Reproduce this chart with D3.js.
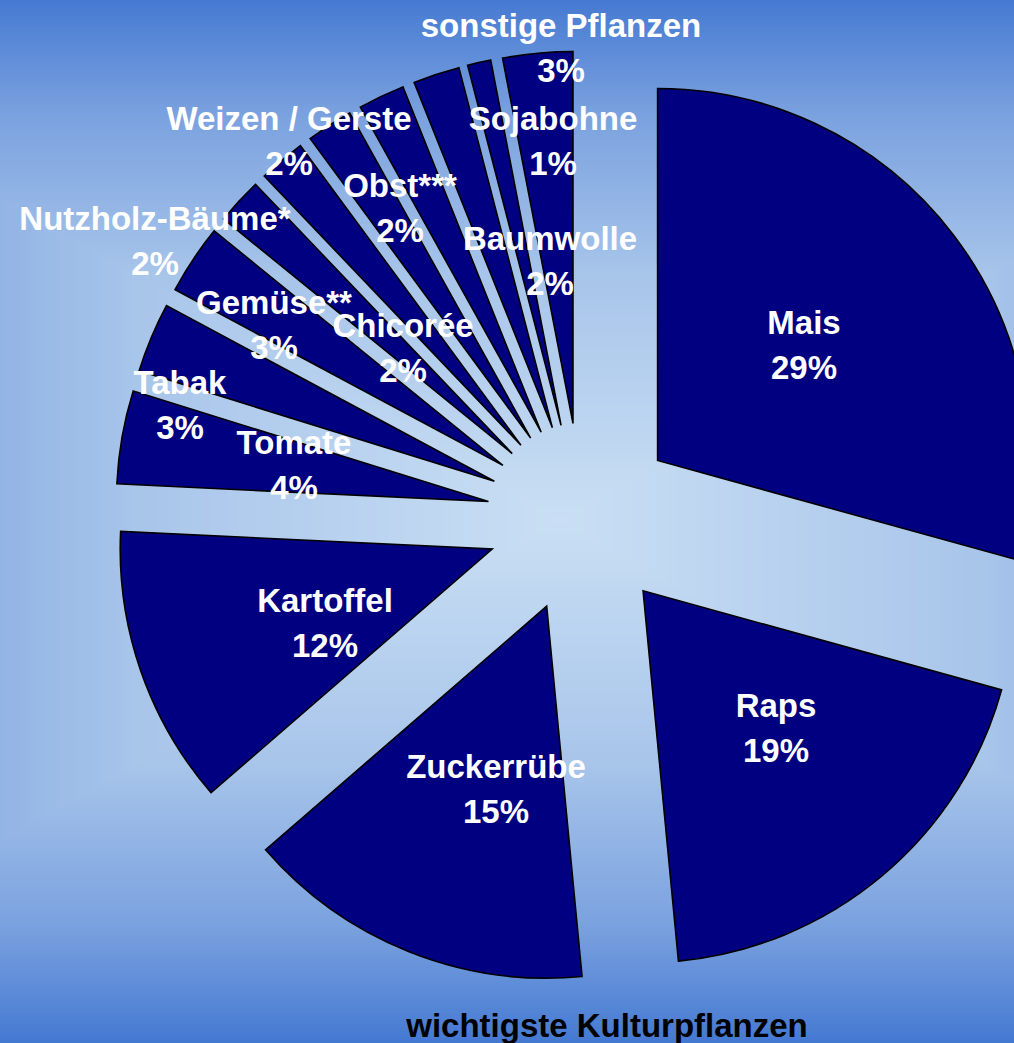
<!DOCTYPE html>
<html>
<head>
<meta charset="utf-8">
<script src="https://cdn.jsdelivr.net/npm/d3@7"></script>
<style>
  html, body { margin: 0; padding: 0; overflow: hidden; background: #3b72cf; }
  svg { display: block; }
</style>
</head>
<body>
<svg id="chart" width="1014" height="1043"></svg>
<script>
// Anbauflächen gentechnisch veränderter Pflanzen – Anteile in Prozent
const categories = [
  "Mais", "Raps", "Zuckerrübe", "Kartoffel", "Tomate", "Tabak", "Gemüse**",
  "Nutzholz-Bäume*", "Weizen / Gerste", "Obst***", "Chicorée", "Baumwolle",
  "Sojabohne", "sonstige Pflanzen"
];
const shares = [29, 19, 15, 12, 4, 3, 3, 2, 2, 2, 2, 2, 1, 3];
const shareLabels = shares.map(v => v + "%");
const title = "wichtigste Kulturpflanzen";

// Where each name line sits (centre of the first text line), in px
const labelAnchors = [
  [804, 322], [776, 705], [496, 766], [325, 600], [294, 442], [180, 382],
  [274, 302], [155, 218], [289, 118], [400, 185], [403, 325], [550, 238],
  [553, 118], [561, 25]
];

const W = 1014, H = 1043;
const svg = d3.select("#chart");

// ---- background: rectangular "from centre" gradient built from nested rects
const bg = { cx: 560, cy: 520, rx: 950, ry: 545 };
const bgColor = d3.scaleLinear()
  .domain([0, 0.45, 0.75, 1])
  .range(["#cadff4", "#a8c5ea", "#7aa1df", "#3b72cf"])
  .interpolate(d3.interpolateRgb)
  .clamp(true);
const steps = d3.range(160, 0, -1).map(i => i / 160);

svg.append("rect").attr("width", W).attr("height", H).attr("fill", "#3b72cf");
svg.append("g")
  .selectAll("rect")
  .data(steps)
  .join("rect")
  .attr("x", t => bg.cx - t * bg.rx)
  .attr("y", t => bg.cy - t * bg.ry)
  .attr("width", t => 2 * t * bg.rx)
  .attr("height", t => 2 * t * bg.ry)
  .attr("fill", t => bgColor(t));

// ---- exploded pie
const data = categories.map((name, i) => ({ name, value: shares[i], label: shareLabels[i] }));
const cx = 582, cy = 518, radius = 372, explode = 95;

const pie = d3.pie().sort(null).value(d => d.value).startAngle(0).endAngle(2 * Math.PI);
const arc = d3.arc().innerRadius(0).outerRadius(radius);
const arcs = pie(data);

const gPie = svg.append("g").attr("transform", `translate(${cx},${cy})`);
gPie.selectAll("path")
  .data(arcs)
  .join("path")
  .attr("transform", d => {
    const a = (d.startAngle + d.endAngle) / 2;
    return `translate(${explode * Math.sin(a)},${-explode * Math.cos(a)})`;
  })
  .attr("d", arc)
  .attr("fill", "#000080")
  .attr("stroke", "#000000")
  .attr("stroke-width", 1.6)
  .attr("stroke-linejoin", "miter");

// ---- labels
const font = "'Liberation Sans', Arial, Helvetica, sans-serif";
const lineGap = 45;
const gLab = svg.append("g")
  .attr("font-family", font)
  .attr("font-weight", "bold")
  .attr("font-size", 33)
  .attr("fill", "#ffffff")
  .attr("text-anchor", "middle");

const labels = gLab.selectAll("g")
  .data(data)
  .join("g")
  .attr("transform", (d, i) => `translate(${labelAnchors[i][0]},${labelAnchors[i][1]})`);
labels.append("text")
  .attr("dominant-baseline", "central")
  .text(d => d.name);
labels.append("text")
  .attr("y", lineGap)
  .attr("dominant-baseline", "central")
  .text(d => d.label);

// ---- caption
svg.append("text")
  .attr("x", 607)
  .attr("y", 1025)
  .attr("dominant-baseline", "central")
  .attr("text-anchor", "middle")
  .attr("font-family", font)
  .attr("font-weight", "bold")
  .attr("font-size", 33)
  .attr("fill", "#000000")
  .text(title);
</script>
</body>
</html>
